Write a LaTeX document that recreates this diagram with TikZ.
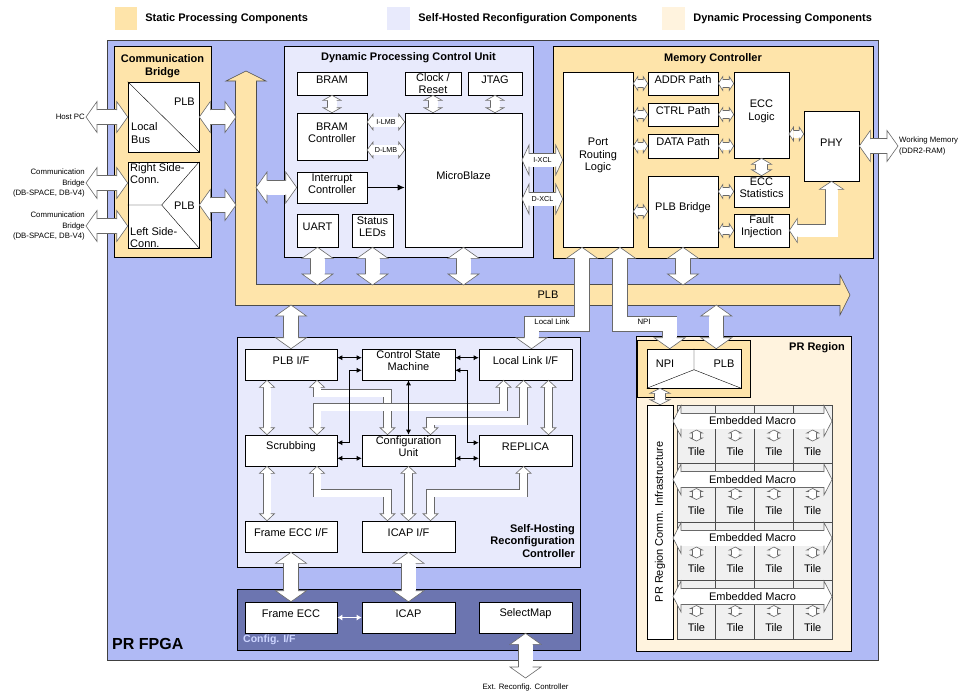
\documentclass[tikz,border=0pt]{standalone}
\usepackage{fontspec}
\setmainfont{Liberation Sans}
\usetikzlibrary{calc,fit,positioning,arrows.meta}
\definecolor{fpgacol}{RGB}{176,186,245}
\definecolor{staticcol}{RGB}{254,228,170}
\definecolor{selfcol}{RGB}{232,234,252}
\definecolor{dyncol}{RGB}{255,243,222}
\definecolor{cfgcol}{RGB}{108,117,176}
\definecolor{cfgtxtcol}{RGB}{205,213,255}
\definecolor{tilecol}{RGB}{240,240,240}
\definecolor{arrowgray}{RGB}{105,105,105}
\colorlet{fatfillc}{white}
\colorlet{fatedgec}{arrowgray}
\newcommand\boxfont{\fontsize{11}{12.5}\selectfont}
\newcommand\ttlfont{\fontsize{11}{12.5}\selectfont\bfseries}
\newcommand\lblfont{\fontsize{7.8}{10.5}\selectfont}
\newcommand\arrfont{\fontsize{7.2}{8}\selectfont}
\tikzset{
  cont/.style={draw=black, line width=0.7pt, inner sep=0pt},
  box/.style={draw=black, fill=white, line width=0.6pt, inner sep=0pt, align=center, font=\boxfont},
  txt/.style={font=\boxfont, inner sep=1pt},
  ttl/.style={font=\ttlfont, align=center, inner sep=1pt},
  lbl/.style={font=\lblfont, inner sep=1pt},
  legsq/.style={inner sep=0pt},
  tile/.style={draw=black!70, fill=tilecol, line width=0.6pt, inner sep=0pt},
  fathd/.style={fill=fatfillc, draw=fatedgec, line width=0.6pt, line join=miter},
  fatshaft/.style={draw=fatfillc, line width=2*#1, line join=miter,
    preaction={draw=fatedgec, line width=2*#1+1.2, line join=miter}},
  ctl/.style={{Latex[length=5pt,width=5pt]}-{Latex[length=5pt,width=5pt]}, line width=0.7pt}
}
% hollow head: tip, point behind it, half shaft, half head, head length
\newcommand{\fathead}[5]{%
  \coordinate (hq) at ($(#1)!#5pt!(#2)$);
  \filldraw[fathd] ($(hq)!#3pt!90:(#2)$) -- ($(hq)!#4pt!90:(#2)$) -- (#1)
    -- ($(hq)!#4pt!-90:(#2)$) -- ($(hq)!#3pt!-90:(#2)$);}
\newcommand{\fatdbl}[5]{%
  \draw[fatshaft=#3] ($(#1)!#5pt!(#2)$) -- ($(#2)!#5pt!(#1)$);
  \fathead{#1}{#2}{#3}{#4}{#5}\fathead{#2}{#1}{#3}{#4}{#5}}
% ends #1 and #3, corner #2
\newcommand{\fatelbow}[6]{%
  \draw[fatshaft=#4] ($(#1)!#6pt!(#2)$) -- (#2) -- ($(#3)!#6pt!(#2)$);
  \fathead{#1}{#2}{#4}{#5}{#6}\fathead{#3}{#2}{#4}{#5}{#6}}
% ends #1 and #4, corners #2 and #3
\newcommand{\fatbent}[7]{%
  \draw[fatshaft=#5] ($(#1)!#7pt!(#2)$) -- (#2) -- (#3) -- ($(#4)!#7pt!(#3)$);
  \fathead{#1}{#2}{#5}{#6}{#7}\fathead{#4}{#3}{#5}{#6}{#7}}
\newcommand{\bigdbl}[2]{\fatdbl{#1}{#2}{7}{15.5}{11}}
\newcommand{\smalldbl}[2]{\fatdbl{#1}{#2}{3.5}{7}{4.5}}
\newcommand{\middbl}[2]{\fatdbl{#1}{#2}{3.5}{7.5}{7}}

\begin{document}
\begin{tikzpicture}[x=1pt,y=-1pt]
  \useasboundingbox (0,0) rectangle (960,697);
  % legend
  \node[legsq, fill=staticcol, fit={(115,7) (137,30)}] (legstatic) {};
  \node[ttl, right=7pt of legstatic] (legstatictxt) {Static Processing Components};
  \node[legsq, fill=selfcol, fit={(387,7) (410,30)}] (legself) {};
  \node[ttl, right=7pt of legself] (legselftxt) {Self-Hosted Reconfiguration Components};
  \node[legsq, fill=dyncol, fit={(662,7) (685,30)}] (legdyn) {};
  \node[ttl, right=7pt of legdyn] (legdyntxt) {Dynamic Processing Components};
  % PR FPGA
  \node[cont, draw=black!75, fill=fpgacol, fit={(107,40) (878,660)}] (fpga) {};
  \node[font=\fontsize{16}{18}\selectfont\bfseries, anchor=west, inner sep=0pt] (fpgatxt) at (112,644) {PR FPGA};
  % communication bridge
  \node[cont, fill=staticcol, fit={(114,46) (211,257)}] (cb) {};
  \node[ttl] (cbtxt) at (162.5,66) {Communication\\Bridge};
  \node[box, fit={(128,82) (199,152)}] (lbus) {};
  \draw (lbus.north west) -- (lbus.south east);
  \node[txt, anchor=east] (lbusplb) at (196,102) {PLB};
  \node[txt, align=left, anchor=west] (lbustxt) at (130,133) {Local\\Bus};
  \node[box, fit={(128,162) (199,248)}] (side) {};
  \draw (side.west) -- ++(34,0) coordinate (sidemid) -- (side.north east) (sidemid) -- (side.south east);
  \node[txt, align=left, anchor=north west] (righttxt) at (129,162) {Right Side-\\Conn.};
  \node[txt, anchor=east] (sideplb) at (196,206) {PLB};
  \node[txt, align=left, anchor=south west] (lefttxt) at (129,249) {Left Side-\\Conn.};
  % dynamic processing control unit
  \node[cont, fill=selfcol, fit={(284,46) (533,257)}] (dpcu) {};
  \node[ttl] (dpcutxt) at (408.5,58) {Dynamic Processing Control Unit};
  \node[box, fit={(297,72) (367,95)}] (bram) {BRAM};
  \node[box, fit={(405,72) (461,95)}] (clk) {};
  \node[txt, align=center, font=\fontsize{11}{12}\selectfont] (clktxt) at (clk) {Clock /\\Reset};
  \node[box, fit={(468,72) (522,95)}] (jtag) {JTAG};
  \node[box, fit={(297,113) (367,160)}] (bramctrl) {BRAM\\Controller};
  \node[box, fit={(405,113) (522,247)}] (mb) {MicroBlaze};
  \node[box, fit={(297,172) (367,203)}] (intc) {Interrupt\\Controller};
  \node[box, fit={(297,214) (338,247)}] (uart) {UART};
  \node[box, fit={(352,214) (393,247)}] (leds) {Status\\LEDs};
  % memory controller
  \node[cont, fill=staticcol, fit={(553,46) (873,258)}] (mc) {};
  \node[ttl] (mctxt) at (713,59) {Memory Controller};
  \node[box, fit={(563,72) (633,247)}] (prl) {Port\\Routing\\Logic};
  \node[box, fit={(648,72) (718,95)}] (addr) {ADDR Path};
  \node[box, fit={(648,103) (718,126)}] (ctrl) {CTRL Path};
  \node[box, fit={(648,134) (718,158)}] (data) {DATA Path};
  \node[box, fit={(734,72) (789,158)}] (ecc) {ECC\\Logic};
  \node[box, fit={(804,111) (859,181)}] (phy) {PHY};
  \node[box, fit={(648,176) (718,247)}] (plbbr) {PLB Bridge};
  \node[box, fit={(734,176) (789,207)}] (eccstat) {ECC\\Statistics};
  \node[box, fit={(734,214) (789,247)}] (fault) {Fault\\Injection};
  % self-hosting reconfiguration controller
  \node[cont, fill=selfcol, fit={(237,337) (580,567)}] (shrc) {};
  \node[ttl, align=right, anchor=east] (shrctxt) at (576,541) {Self-Hosting\\Reconfiguration\\Controller};
  \node[box, fit={(245,349) (337,380)}] (plbif) {PLB I/F};
  \node[box, fit={(362,349) (455,380)}] (csm) {Control State\\Machine};
  \node[box, fit={(479,349) (572,380)}] (llif) {Local Link I/F};
  \node[box, fit={(245,435) (337,466)}] (scrub) {Scrubbing};
  \node[box, fit={(362,435) (455,466)}] (cfg) {Configuration\\Unit};
  \node[box, fit={(479,435) (572,466)}] (replica) {REPLICA};
  \node[box, fit={(245,521) (337,552)}] (fecci) {Frame ECC I/F};
  \node[box, fit={(362,521) (455,552)}] (icapif) {ICAP I/F};
  % config interface
  \node[cont, fill=cfgcol, fit={(237,589) (580,650)}] (cfgif) {};
  \node[font=\fontsize{10.5}{12}\selectfont\bfseries, text=cfgtxtcol, anchor=west, inner sep=0pt] (cfgiftxt) at (243,640) {Config. I/F};
  \node[box, fit={(245,602) (337,633)}] (fecc) {Frame ECC};
  \node[box, fit={(362,602) (455,633)}] (icap) {ICAP};
  \node[box, fit={(479,602) (572,633)}] (selmap) {SelectMap};
  % PR region
  \node[cont, fill=dyncol, fit={(636,336) (851,651)}] (prr) {};
  \node[ttl, anchor=east] (prrtxt) at (846,348) {PR Region};
  \node[cont, fill=staticcol, fit={(637,340) (750,397)}] (npictr) {};
  \node[box, fit={(647,349) (741,388)}] (npiplb) {};
  \draw (npiplb.north) -- ++(0,21) coordinate (npimid) -- (npiplb.south west) (npimid) -- (npiplb.south east);
  \node[txt] (npitxt) at (665,364) {NPI};
  \node[txt] (prplbtxt) at (724,364) {PLB};
  \node[box, fit={(647,405) (673,639)}] (infra) {};
  \node[txt, rotate=90] (infratxt) at (infra) {PR Region Comm. Infrastructure};
  \foreach \row in {0,...,3}{
    \pgfmathsetmacro{\rowtop}{405+58.5*\row}
    \foreach \col in {0,...,3}{
      \pgfmathsetmacro{\cellx}{677+38.75*\col}
      \node[tile, fit={(\cellx,\rowtop) (\cellx+38.75,\rowtop+58.5)}] (tile\row\col) {};
      \coordinate (tia\row\col) at (\cellx+19.4,\rowtop+25);
      \coordinate (tib\row\col) at (\cellx+19.4,\rowtop+36);
      \fatdbl{tia\row\col}{tib\row\col}{3.5}{6}{3}
      \node[txt] (tiletxt\row\col) at (\cellx+19.4,\rowtop+47) {Tile};
    }
    \coordinate (emw\row) at (673,\rowtop+16);
    \coordinate (eme\row) at (832,\rowtop+16);
    \fatdbl{emw\row}{eme\row}{7.5}{15.5}{8}
    \node[txt] (emtxt\row) at (752.5,\rowtop+16) {Embedded Macro};
  }
  % PLB bus
  \begin{scope}
    \colorlet{fatfillc}{staticcol}\colorlet{fatedgec}{black!70}
    \coordinate (plbtop) at (246,71);
    \coordinate (plbcorner) at (246,295);
    \coordinate (plbtip) at (850,295);
    \fatelbow{plbtop}{plbcorner}{plbtip}{10}{20}{10}
  \end{scope}
  \node[txt] (plbtxt) at (548,295) {PLB};
  \coordinate (plbN) at (0,285);
  \coordinate (plbS) at (0,305);
  \coordinate (plbE) at (256,0);
  \coordinate (plbW) at (236,0);
  % bridge links
  \coordinate (hostpc) at (86,117);
  \coordinate (cbright) at (86,183);
  \coordinate (cbleft) at (86,226);
  \bigdbl{hostpc}{lbus.west}
  \bigdbl{cbright}{cbright -| side.west}
  \bigdbl{cbleft}{cbleft -| side.west}
  \bigdbl{lbus.east}{lbus.east -| plbW}
  \bigdbl{side.east}{side.east -| plbW}
  \node[lbl, anchor=east] (hostpctxt) at (hostpc) {Host PC};
  \node[lbl, anchor=east, align=right] (cbrighttxt) at (cbright) {Communication\\Bridge\\(DB-SPACE, DB-V4)};
  \node[lbl, anchor=east, align=right] (cblefttxt) at (cbleft) {Communication\\Bridge\\(DB-SPACE, DB-V4)};
  % control unit links
  \fatdbl{bram.south}{bramctrl.north}{4.5}{9}{5}
  \fatdbl{clk.south}{clk.south |- mb.north}{4.5}{9}{5}
  \fatdbl{jtag.south}{jtag.south |- mb.north}{4.5}{9}{5}
  \coordinate (ilmb) at (367,122);
  \coordinate (dlmb) at (367,150);
  \fatdbl{ilmb}{ilmb -| mb.west}{4.8}{8}{6}
  \fatdbl{dlmb}{dlmb -| mb.west}{4.8}{8}{6}
  \node[font=\arrfont, inner sep=0pt] (ilmbtxt) at (386,122) {I-LMB};
  \node[font=\arrfont, inner sep=0pt] (dlmbtxt) at (386,150) {D-LMB};
  \draw[-{Latex[length=7pt,width=6pt]}, line width=0.8pt] (intc.east) -- (intc.east -| mb.west);
  \bigdbl{intc.west -| plbE}{intc.west}
  \bigdbl{uart.south}{uart.south |- plbN}
  \bigdbl{leds.south}{leds.south |- plbN}
  \bigdbl{mb.south}{mb.south |- plbN}
  \coordinate (ixcl) at (522,160);
  \coordinate (dxcl) at (522,199);
  \fatdbl{ixcl}{ixcl -| prl.west}{6.5}{15}{7}
  \fatdbl{dxcl}{dxcl -| prl.west}{6.5}{15}{7}
  \node[font=\arrfont, inner sep=0pt] (ixcltxt) at (542.5,160) {I-XCL};
  \node[font=\arrfont, inner sep=0pt] (dxcltxt) at (542.5,199) {D-XCL};
  % memory controller links
  \smalldbl{addr.west -| prl.east}{addr.west}
  \smalldbl{ctrl.west -| prl.east}{ctrl.west}
  \smalldbl{data.west -| prl.east}{data.west}
  \smalldbl{plbbr.west -| prl.east}{plbbr.west}
  \smalldbl{addr.east}{addr.east -| ecc.west}
  \smalldbl{ctrl.east}{ctrl.east -| ecc.west}
  \smalldbl{data.east}{data.east -| ecc.west}
  \coordinate (eccphy) at (789,134);
  \smalldbl{eccphy}{eccphy -| phy.west}
  \fatdbl{ecc.south}{eccstat.north}{5.5}{10}{6}
  \smalldbl{eccstat.west -| plbbr.east}{eccstat.west}
  \smalldbl{fault.west -| plbbr.east}{fault.west}
  \fatelbow{fault.east}{phy.south |- fault.east}{phy.south}{6}{12}{8}
  \coordinate (ddr) at (898,146);
  \bigdbl{phy.east}{ddr}
  \node[lbl, anchor=west, align=left] (ddrtxt) at (ddr) {Working Memory\\(DDR2-RAM)};
  \bigdbl{plbbr.south}{plbbr.south |- plbN}
  % local link and NPI
  \coordinate (linky) at (0,324);
  \coordinate (llup) at ($(prl.south)+(-16,0)$);
  \coordinate (lldn) at ($(llif.north)+(6,0)$);
  \fatbent{llup}{llup |- linky}{lldn |- linky}{lldn}{7}{15.5}{11}
  \node[lbl] (lltxt) at (552,322) {Local Link};
  \coordinate (npiup) at ($(prl.south)+(22,0)$);
  \coordinate (npidn) at ($(npiplb.north west)+(23,0)$);
  \fatbent{npiup}{npiup |- linky}{npidn |- linky}{npidn}{7}{15.5}{11}
  \node[lbl] (npilinktxt) at (644,322) {NPI};
  \coordinate (prplb) at ($(npiplb.north east)+(-25,0)$);
  \bigdbl{prplb |- plbS}{prplb}
  \bigdbl{plbif.north |- plbS}{plbif.north}
  \fatdbl{infra.north |- npiplb.south}{infra.north}{5}{10}{5}
  % reconfiguration controller links
  \coordinate (s1) at ($(plbif.south)+(-24,0)$);
  \coordinate (s2) at ($(plbif.south)+(26,0)$);
  \coordinate (s3) at ($(llif.south)+(-22,0)$);
  \coordinate (s4) at ($(llif.south)+(-2,0)$);
  \coordinate (s5) at ($(llif.south)+(23,0)$);
  \coordinate (s6) at ($(scrub.south)+(-24,0)$);
  \coordinate (s7) at ($(scrub.south)+(26,0)$);
  \coordinate (s8) at ($(replica.south)+(-2,0)$);
  \coordinate (t1) at ($(cfg.north)+(-21,0)$);
  \coordinate (t2) at ($(cfg.north)+(22,0)$);
  \coordinate (t3) at ($(scrub.north)+(26,0)$);
  \coordinate (t4) at ($(icapif.north)+(-21,0)$);
  \coordinate (t5) at ($(icapif.north)+(22,0)$);
  \coordinate (y1) at (0,393);
  \coordinate (y2) at (0,407);
  \coordinate (y3) at (0,421);
  \coordinate (y4) at (0,493);
  \middbl{s1}{s1 |- scrub.north}
  \fatbent{s2}{s2 |- y1}{t1 |- y1}{t1}{3.5}{7.5}{7}
  \fatbent{s3}{s3 |- y2}{t3 |- y2}{t3}{3.5}{7.5}{7}
  \fatbent{s4}{s4 |- y3}{t2 |- y3}{t2}{3.5}{7.5}{7}
  \middbl{s5}{s5 |- replica.north}
  \middbl{s6}{s6 |- fecci.north}
  \fatbent{s7}{s7 |- y4}{t4 |- y4}{t4}{3.5}{7.5}{7}
  \middbl{cfg.south}{icapif.north}
  \fatbent{s8}{s8 |- y4}{t5 |- y4}{t5}{3.5}{7.5}{7}
  \draw[ctl] ($(plbif.north east)+(0,9)$) -- ($(csm.north west)+(0,9)$);
  \draw[ctl] ($(csm.north east)+(0,9)$) -- ($(llif.north west)+(0,9)$);
  \draw[ctl] ($(scrub.south east)+(0,-8)$) -- ($(cfg.south west)+(0,-8)$);
  \draw[ctl] ($(cfg.south east)+(0,-8)$) -- ($(replica.south west)+(0,-8)$);
  \draw[ctl] (csm.south) -- (cfg.north);
  \draw[ctl] ($(csm.south west)+(0,-10)$) -- ++(-12,0) |- ($(scrub.north east)+(0,8)$);
  \draw[ctl] ($(csm.south east)+(0,-10)$) -- ++(12,0) |- ($(replica.north west)+(0,8)$);
  % config links
  \bigdbl{fecci.south}{fecci.south |- fecc.north}
  \bigdbl{icapif.south}{icap.north}
  \draw[white, line width=1.4pt, {Latex[length=5pt,width=6pt]}-{Latex[length=5pt,width=6pt]}] (fecc.east) -- (icap.west);
  \coordinate (ext) at (525.5,678);
  \bigdbl{selmap.south}{ext}
  \node[lbl, anchor=north] (exttxt) at (525.5,683) {Ext. Reconfig. Controller};
\end{tikzpicture}
\end{document}
